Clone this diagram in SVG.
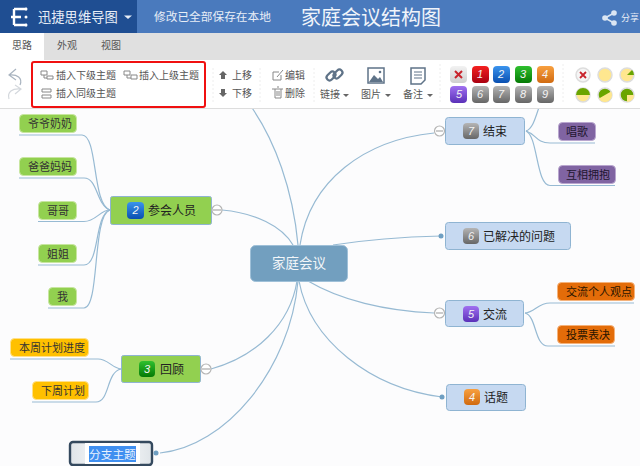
<svg xmlns="http://www.w3.org/2000/svg" width="640" height="466" viewBox="0 0 640 466">
<style>
text{font-family:"Noto Sans CJK SC","Liberation Sans",sans-serif;fill:#333}
.n{font-size:12px;fill:#222}
.s{font-size:11px;fill:#333}
.t{font-size:10px;fill:#555}
.m{font-size:11px;fill:#f4f4f4;font-family:"Liberation Sans",sans-serif;font-style:italic;text-anchor:middle}
.l{fill:none;stroke:#97bad3;stroke-width:1.2}
.b{fill:#c6d9f1;stroke:#8fb4d2;stroke-width:1}
.g{fill:#92d050;stroke:#8fb4d2;stroke-width:1}
.leaf{stroke:#c8e6a0;stroke-width:1;fill:#92d050}
.c{fill:#fff;stroke:#b5b5b5;stroke-width:1.2}
.minus{stroke:#aaa;stroke-width:1.2}
.dot{fill:#6f9fc2}
.ic{fill:none;stroke:#888;stroke-width:1}
.if{fill:#666}
.face{stroke:#ddd;stroke-width:1.5}
</style>
<defs>
<linearGradient id="g2" x1="0" y1="0" x2="0" y2="1"><stop offset="0" stop-color="#3a94ee"/><stop offset="1" stop-color="#0a4fb0"/></linearGradient>
<linearGradient id="g3" x1="0" y1="0" x2="0" y2="1"><stop offset="0" stop-color="#2fc02f"/><stop offset="1" stop-color="#057a05"/></linearGradient>
<linearGradient id="g1" x1="0" y1="0" x2="0" y2="1"><stop offset="0" stop-color="#f52020"/><stop offset="1" stop-color="#a80010"/></linearGradient>
<linearGradient id="g4" x1="0" y1="0" x2="0" y2="1"><stop offset="0" stop-color="#f8a040"/><stop offset="1" stop-color="#d06a10"/></linearGradient>
<linearGradient id="g5" x1="0" y1="0" x2="0" y2="1"><stop offset="0" stop-color="#a070f0"/><stop offset="1" stop-color="#5a30b8"/></linearGradient>
<linearGradient id="g6" x1="0" y1="0" x2="0" y2="1"><stop offset="0" stop-color="#b5b5b5"/><stop offset="1" stop-color="#666"/></linearGradient>
<linearGradient id="g0" x1="0" y1="0" x2="0" y2="1"><stop offset="0" stop-color="#f2f2f2"/><stop offset="1" stop-color="#cfcfcf"/></linearGradient>
<linearGradient id="sel" x1="0" y1="0" x2="1" y2="0"><stop offset="0" stop-color="#dfe4e8"/><stop offset="0.5" stop-color="#fff"/><stop offset="1" stop-color="#dfe4e8"/></linearGradient>
</defs>

<rect width="640" height="466" fill="#fcfcfd"/>

<g id="connectors">
<path class="l" d="M250 105C275 140 293 190 298 245"/>
<path class="l" d="M222 210C255 213 282 226 293 245"/>
<path class="l" d="M300 245C310 180 365 140 434 133"/>
<path class="l" d="M333 245C365 240 400 237 441 236"/>
<path class="l" d="M308 281C340 300 385 311 434 313"/>
<path class="l" d="M299 281C310 340 370 388 442 397"/>
<path class="l" d="M297 281C290 325 255 357 211 369"/>
<path class="l" d="M298 281C290 370 225 447 160 453"/>
<path class="l" d="M19 135H82C98 135 92 205 110 210"/>
<path class="l" d="M19 178H84C98 178 96 205 110 210"/>
<path class="l" d="M38 221.500H84C96 221.500 100 210 110 210"/>
<path class="l" d="M38 265H84C100 265 94 215 110 210"/>
<path class="l" d="M48 308H84C100 308 92 215 110 210"/>
<path class="l" d="M10 359H98C108 359 112 368 121 369"/>
<path class="l" d="M32 402H96C110 402 106 372 121 369"/>
<path class="l" d="M526 131C534 128 536 114 540 105"/>
<path class="l" d="M526 131C536 134 536 143 550 143H595"/>
<path class="l" d="M526 131C538 136 536 185.500 550 185.500H615"/>
<path class="l" d="M525 313C535 312 538 303 550 303H634"/>
<path class="l" d="M525 313C537 316 534 346 548 346H615"/>
</g>

<g id="header">
<rect width="640" height="33" fill="#4a7abd"/>
<rect width="137" height="33" fill="#1f4e92"/>
<path d="M11 17H21M14 9H27M14 25H27M14 9V25" fill="none" stroke="#fff" stroke-width="2.400"/>
<circle cx="26" cy="9" r="1.500" fill="#fff"/><circle cx="26" cy="17" r="1.500" fill="#fff"/><circle cx="26" cy="25" r="1.500" fill="#fff"/>
<text x="38" y="22" font-size="13.300" style="fill:#e8eef7">迅捷思维导图</text>
<path d="M124 15.500H132L128 19Z" fill="#e8eef7"/>
<text x="154" y="21" font-size="11.700" style="fill:#e8eef7">修改已全部保存在本地</text>
<text x="301" y="25" font-size="20" style="fill:#f0f4fa">家庭会议结构图</text>
<g fill="#dbe6f3"><circle cx="605" cy="18" r="2.800"/><circle cx="614" cy="13" r="2.800"/><circle cx="614" cy="23" r="2.800"/></g>
<path d="M605 18L614 13M605 18L614 23" stroke="#dbe6f3" stroke-width="1.500"/>
<text x="621" y="21" font-size="9" style="fill:#e8eef7">分享</text>
</g>

<g id="tabs">
<rect y="33" width="640" height="27" fill="#e0e0e0"/>
<rect y="33" width="44" height="27" fill="#fff"/>
<text x="12" y="49" class="t">思路</text>
<text x="57" y="49" class="t">外观</text>
<text x="101" y="49" class="t">视图</text>
</g>

<g id="toolbar">
<rect y="60" width="640" height="48" fill="#fff"/>
<path d="M0 108.500H640" stroke="#ddd"/>
<path d="M16 69L9 75L16 80M9 75C17 74 23 78 20 85" fill="none" stroke="#a9b4c0" stroke-width="1.200"/>
<path d="M9 99C7 92 12 88 21 89M15 85L21 89L15 94" fill="none" stroke="#d4d8dd" stroke-width="1.200"/>
<rect x="32" y="62" width="173" height="45" rx="2" fill="#fff" stroke="#f01010" stroke-width="2"/>
<path class="ic" d="M41 71h6v4h-6zM47 76h6v3h-6zM44 75v3h3"/>
<text x="56" y="79" class="t">插入下级主题</text>
<path class="ic" d="M124 71h6v4h-6zM131 75h6v4h-6zM127 75v3h4"/>
<text x="139" y="79" class="t">插入上级主题</text>
<path class="ic" d="M42 89h9v3h-9zM42 95h9v3h-9z"/>
<text x="56" y="97" class="t">插入同级主题</text>
<path class="if" d="M223 71L227 75H225V79H221V75H219Z"/>
<text x="232" y="79" class="t">上移</text>
<path class="if" d="M223 97L227 93H225V89H221V93H219Z"/>
<text x="232" y="97" class="t">下移</text>
<path d="M213 68V102M260 68V102M314 68V102M440 64V104M563 64V104" stroke="#eee" stroke-dasharray="2 2"/>
<path class="ic" d="M279 72H273V80H281V75M277 77L283 70"/>
<text x="285" y="79" class="t">编辑</text>
<path class="ic" d="M272 89H283M275 89V98H281V89M277 87H279M277 91V96M279 91V96"/>
<text x="285" y="97" class="t">删除</text>
<g fill="none" stroke="#5f7388" stroke-width="2.200"><rect x="326" y="73" width="10" height="6" rx="3" transform="rotate(-45 331 76)"/><rect x="333" y="71" width="10" height="6" rx="3" transform="rotate(-45 338 74)"/></g>
<text x="320" y="98" class="t">链接</text><path class="if" d="M343 94H349L346 97Z"/>
<rect x="368" y="68" width="16" height="15" fill="#fff" stroke="#5f7388" stroke-width="1.500"/><path d="M369 82L374 75L378 79L380 77L383 82Z" fill="#5f7388"/><circle cx="380" cy="72" r="1.300" fill="#5f7388"/>
<text x="361" y="98" class="t">图片</text><path class="if" d="M385 94H391L388 97Z"/>
<path d="M411 68H425V80L421 84H411Z" fill="#fff" stroke="#5f7388" stroke-width="1.500"/><path d="M414 72H422M414 75H422M414 78H422" stroke="#5f7388"/>
<text x="403" y="98" class="t">备注</text><path class="if" d="M427 94H433L430 97Z"/>
<g id="badges">
<rect x="450" y="66" width="17" height="17" rx="4" fill="url(#g0)"/><path d="M455 71L462 78M462 71L455 78" stroke="#c8242c" stroke-width="2"/>
<rect x="472" y="66" width="17" height="17" rx="4" fill="url(#g1)"/><text x="480" y="78" class="m">1</text>
<rect x="493" y="66" width="17" height="17" rx="4" fill="url(#g2)"/><text x="501" y="78" class="m">2</text>
<rect x="515" y="66" width="17" height="17" rx="4" fill="url(#g3)"/><text x="523" y="78" class="m">3</text>
<rect x="537" y="66" width="17" height="17" rx="4" fill="url(#g4)"/><text x="545" y="78" class="m">4</text>
<rect x="450" y="86" width="17" height="17" rx="4" fill="url(#g5)"/><text x="459" y="98" class="m">5</text>
<rect x="472" y="86" width="17" height="17" rx="4" fill="url(#g6)"/><text x="480" y="98" class="m">6</text>
<rect x="493" y="86" width="17" height="17" rx="4" fill="url(#g6)"/><text x="501" y="98" class="m">7</text>
<rect x="515" y="86" width="17" height="17" rx="4" fill="url(#g6)"/><text x="523" y="98" class="m">8</text>
<rect x="537" y="86" width="17" height="17" rx="4" fill="url(#g6)"/><text x="545" y="98" class="m">9</text>
</g>
<g id="progress">
<circle cx="583" cy="75" r="7" fill="#f5f5f5" class="face"/><path d="M580 72L586 78M586 72L580 78" stroke="#c8242c" stroke-width="1.800"/>
<circle cx="605" cy="75" r="7" fill="#ffe78f" class="face"/>
<circle cx="627" cy="75" r="7" fill="#ffe78f" class="face"/><path d="M627 75H634A7 7 0 0 0 632 70Z" fill="#6aa500"/>
<circle cx="583" cy="95" r="7" fill="#ffe78f" class="face"/><path d="M576 95A7 7 0 0 1 590 95Z" fill="#6aa500"/>
<circle cx="605" cy="95" r="7" fill="#6aa500" class="face"/><path d="M605 95H612A7 7 0 0 1 598 95Z" fill="#ffe78f" transform="rotate(-30 605 95)"/>
<circle cx="627" cy="95" r="7" fill="#6aa500" class="face"/><path d="M627 95H634A7 7 0 0 1 627 102Z" fill="#ffe78f"/>
</g>
</g>

<g id="root"><rect x="250.500" y="245.500" width="97" height="36" rx="5" fill="#729fbf" stroke="#9fc0d8"/><text x="272" y="268" font-size="13.500" style="fill:#f2f6f9">家庭会议</text></g>

<g id="topic-2"><rect class="g" x="110.500" y="196.500" width="101" height="28" rx="2"/><rect x="127" y="202" width="17" height="17" rx="4" fill="url(#g2)"/><text x="135.500" y="214" class="m">2</text><text x="148" y="215" class="n">参会人员</text><circle class="c" cx="217" cy="210" r="5"/><path class="minus" d="M213 210H221"/></g>
<g id="leaf-yeye"><rect class="leaf" x="19.500" y="114.500" width="57" height="18" rx="4"/><text x="28" y="128" class="s">爷爷奶奶</text></g>
<g id="leaf-baba"><rect class="leaf" x="19.500" y="157.500" width="57" height="18" rx="4"/><text x="28" y="171" class="s">爸爸妈妈</text></g>
<g id="leaf-gege"><rect class="leaf" x="38.500" y="201.500" width="38" height="18" rx="4"/><text x="47" y="215" class="s">哥哥</text></g>
<g id="leaf-jiejie"><rect class="leaf" x="38.500" y="244.500" width="38" height="18" rx="4"/><text x="47" y="258" class="s">姐姐</text></g>
<g id="leaf-wo"><rect class="leaf" x="48.500" y="287.500" width="28" height="18" rx="4"/><text x="57" y="301" class="s">我</text></g>

<g id="topic-3"><rect class="g" x="121.500" y="355.500" width="79" height="27" rx="2"/><rect x="139" y="361" width="16" height="16" rx="4" fill="url(#g3)"/><text x="147" y="373" class="m">3</text><text x="160" y="374" class="n">回顾</text><circle class="c" cx="206" cy="369" r="5"/><path class="minus" d="M202 369H210"/></g>
<g id="leaf-jindu"><rect x="10.500" y="338.500" width="78" height="18" rx="4" fill="#ffc000" stroke="#ffe08a"/><text x="19" y="352" class="s">本周计划进度</text></g>
<g id="leaf-xiazhou"><rect x="32.500" y="381.500" width="56" height="18" rx="4" fill="#ffc000" stroke="#ffe08a"/><text x="41" y="395" class="s">下周计划</text></g>

<g id="topic-new"><rect x="70" y="442" width="82" height="23" rx="3" fill="url(#sel)" stroke="#34495e" stroke-width="2.400"/><rect x="85" y="443" width="55" height="21" fill="#fff"/><rect x="89" y="446" width="47" height="16" fill="#3f8ff0"/><text x="89" y="459" font-size="11.700" style="fill:#e8f2ff">分支主题</text><circle class="dot" cx="156" cy="453" r="2.500"/></g>

<g id="topic-7"><rect class="b" x="445.500" y="117.500" width="79" height="27" rx="3"/><rect x="463" y="123" width="16" height="16" rx="4" fill="url(#g6)"/><text x="471" y="135" class="m">7</text><text x="483" y="136" class="n">结束</text><circle class="c" cx="439.500" cy="131" r="5"/><path class="minus" d="M436 131H443"/></g>
<g id="leaf-sing"><rect x="558.500" y="122.500" width="37" height="18" rx="4" fill="#8064a2" stroke="#b9a6cf"/><text x="566" y="136" class="s" style="fill:#1e1630">唱歌</text></g>
<g id="leaf-hug"><rect x="558.500" y="165.500" width="57" height="18" rx="4" fill="#8064a2" stroke="#b9a6cf"/><text x="566" y="179" class="s" style="fill:#1e1630">互相拥抱</text></g>

<g id="topic-6"><rect class="b" x="445.500" y="222.500" width="125" height="27" rx="3"/><rect x="463" y="228" width="16" height="16" rx="4" fill="url(#g6)"/><text x="471" y="240" class="m">6</text><text x="483" y="241" class="n">已解决的问题</text><circle class="dot" cx="441" cy="236" r="2.500"/></g>

<g id="topic-5"><rect class="b" x="445.500" y="300.500" width="78" height="26" rx="3"/><rect x="463" y="306" width="16" height="16" rx="4" fill="url(#g5)"/><text x="471" y="318" class="m">5</text><text x="483" y="319" class="n">交流</text><circle class="c" cx="439.500" cy="313" r="5"/><path class="minus" d="M436 313H443"/></g>
<g id="leaf-view"><rect x="557.500" y="282.500" width="77" height="18" rx="4" fill="#e36c09" stroke="#f5b27a"/><text x="566" y="296" class="s" style="fill:#2a1500">交流个人观点</text></g>
<g id="leaf-vote"><rect x="557.500" y="325.500" width="57" height="18" rx="4" fill="#e36c09" stroke="#f5b27a"/><text x="566" y="339" class="s" style="fill:#2a1500">投票表决</text></g>

<g id="topic-4"><rect class="b" x="446.500" y="384.500" width="79" height="26" rx="3"/><rect x="464" y="389" width="16" height="16" rx="4" fill="url(#g4)"/><text x="472" y="401" class="m">4</text><text x="484" y="402" class="n">话题</text><circle class="dot" cx="442" cy="397" r="2.500"/></g>
</svg>
